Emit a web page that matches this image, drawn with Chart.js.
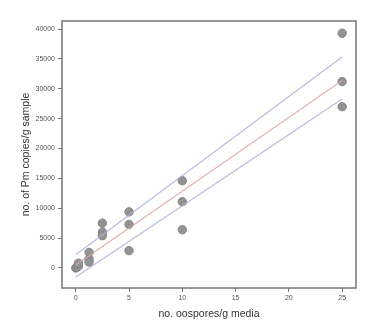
<!DOCTYPE html>
<html>
<head>
<meta charset="utf-8">
<script src="https://cdn.jsdelivr.net/npm/chart.js@4.4.0/dist/chart.umd.min.js"></script>
<style>
    body { margin: 0; background: #ffffff; }
    canvas { display: block; }
</style>
</head>
<body>
<canvas id="chartOosporas" width="380" height="330"></canvas>
<script>
// Datos
const oosporasX = [0, 0.1, 0.25, 0.25, 1.25, 1.25, 1.25, 2.5, 2.5, 2.5, 5, 5, 5, 10, 10, 10, 25, 25, 25];
const copiasY = [0, 100, 300, 800, 2600, 1500, 1000, 7500, 6000, 5400, 9400, 7300, 2900, 14600, 11100, 6400, 39300, 31200, 27000];

// Recta de regresion y bandas
const rectaX = [0, 25];
const ajusteY = [500, 31400];
const superiorY = [2200, 35300];
const inferiorY = [-1500, 28300];

// Marcas de los ejes
const ticksX = [0, 5, 10, 15, 20, 25];
const ticksY = [0, 5000, 10000, 15000, 20000, 25000, 30000, 35000, 40000];

const aPuntos = (xs, ys) => xs.map((x, i) => ({ x: x, y: ys[i] }));

// Caja alrededor del area de grafico
const marcoPlugin = {
    id: 'marco',
    afterDraw(chart) {
        const { ctx, chartArea } = chart;
        ctx.save();
        ctx.strokeStyle = '#757575';
        ctx.lineWidth = 1.5;
        ctx.strokeRect(chartArea.left, chartArea.top, chartArea.right - chartArea.left, chartArea.bottom - chartArea.top);
        ctx.restore();
    }
};

const lineaBanda = (data, color) => ({
    data: data,
    showLine: true,
    borderColor: color,
    borderWidth: 1.2,
    pointRadius: 0,
    fill: false
});

new Chart(document.getElementById('chartOosporas'), {
    type: 'scatter',
    data: {
        datasets: [
            lineaBanda(aPuntos(rectaX, superiorY), 'rgba(175, 175, 215, 0.85)'),
            lineaBanda(aPuntos(rectaX, ajusteY), 'rgba(220, 165, 165, 0.85)'),
            lineaBanda(aPuntos(rectaX, inferiorY), 'rgba(175, 175, 215, 0.85)'),
            {
                data: aPuntos(oosporasX, copiasY),
                backgroundColor: '#939393',
                borderColor: '#858585',
                borderWidth: 1,
                pointRadius: 4.2
            }
        ]
    },
    options: {
        responsive: false,
        animation: false,
        devicePixelRatio: 1,
        layout: {
            padding: { left: 0, top: 21, right: 24, bottom: 0 }
        },
        plugins: {
            legend: { display: false },
            tooltip: { enabled: false }
        },
        scales: {
            x: {
                type: 'linear',
                min: -1.29,
                max: 26.3,
                afterBuildTicks: (scale) => { scale.ticks = ticksX.map(v => ({ value: v })); },
                afterFit: (scale) => { scale.height = 42; },
                border: { display: false },
                grid: { drawOnChartArea: false, drawTicks: true, tickLength: 4, color: '#757575' },
                ticks: {
                    padding: 2,
                    color: '#555',
                    font: { family: 'Liberation Sans', size: 7 },
                    maxRotation: 0
                },
                title: {
                    display: true,
                    text: 'no. oospores/g media',
                    color: '#333',
                    font: { family: 'Liberation Sans', size: 10.5 },
                    padding: { top: 0, bottom: 10 }
                }
            },
            y: {
                type: 'linear',
                min: -3350,
                max: 41340,
                afterBuildTicks: (scale) => { scale.ticks = ticksY.map(v => ({ value: v })); },
                afterFit: (scale) => { scale.width = 62; },
                border: { display: false },
                grid: { drawOnChartArea: false, drawTicks: true, tickLength: 4, color: '#757575' },
                ticks: {
                    padding: 3,
                    color: '#555',
                    font: { family: 'Liberation Sans', size: 7 },
                    callback: (v) => String(v)
                },
                title: {
                    display: true,
                    text: 'no. of Pm copies/g sample',
                    color: '#333',
                    font: { family: 'Liberation Sans', size: 10.5 },
                    padding: { top: 20, bottom: 0 }
                }
            }
        }
    },
    plugins: [marcoPlugin]
});
</script>
</body>
</html>
